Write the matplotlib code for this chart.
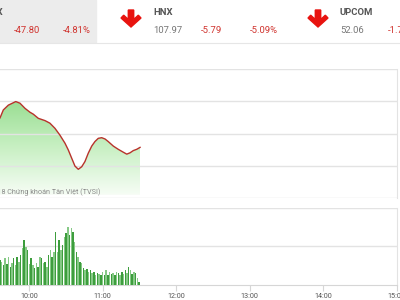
import numpy as np
import matplotlib
matplotlib.use("Agg")
import matplotlib.pyplot as plt
from matplotlib.colors import LinearSegmentedColormap
from matplotlib.patches import Polygon, Rectangle

plt.rcParams['font.family'] = ['Roboto', 'DejaVu Sans']

# index line: minutes after 9:00 and index value
line_minutes = [32.0, 35.9, 38.6, 42.7, 48.7, 52.1, 56.2, 60.2, 62.9, 67.0, 72.4,
                76.4, 80.5, 84.5, 88.6, 91.3, 94.1, 96.7, 99.4, 102.2, 104.8,
                107.5, 110.3, 112.9, 115.6, 118.4, 121.1, 123.7, 127.8, 131.8,
                135.9, 138.7, 141.3, 144.0, 146.8, 149.5]
line_values = [963.3, 964.8, 967.3, 968.8, 969.9, 969.4, 967.8, 966.6, 966.0, 964.7,
               964.0, 963.2, 961.6, 959.5, 957.0, 954.9, 952.3, 949.9, 948.9, 949.7,
               951.3, 953.9, 956.1, 957.5, 958.5, 958.7, 958.3, 957.5, 956.1, 955.1,
               954.2, 953.6, 954.0, 954.7, 955.1, 955.7]

# volume bars (million shares), evenly spaced from first to last minute
vol_first_minute = 36.0
vol_last_minute = 149.8
volumes = [1.28, 1.19, 1.02, 1.39, 1.07, 1.45, 0.93, 1.12, 1.39, 1.02, 1.45, 1.19,
           1.54, 1.89, 2.33, 1.98, 1.80, 1.07, 1.39, 1.02, 0.85, 1.11, 0.93, 1.45,
           1.40, 1.11, 1.19, 0.93, 1.54, 1.80, 1.45, 1.72, 2.76, 1.72, 2.33, 1.80,
           2.07, 2.50, 2.68, 3.02, 2.59, 2.94, 2.76, 2.24, 1.72, 1.45, 1.19, 1.11,
           0.85, 0.76, 0.79, 0.67, 0.76, 0.59, 0.67, 0.50, 0.59, 0.53, 0.50, 0.67,
           0.50, 0.76, 0.50, 0.67, 0.53, 0.62, 0.50, 0.67, 0.59, 0.50, 0.67, 0.53,
           0.76, 0.59, 0.93, 0.76, 0.53, 0.67, 0.59, 0.32, 0.15]

hour_ticks = [10, 11, 12, 13, 14, 15]
hour_labels = ["10:00", "11:00", "12:00", "13:00", "14:00", "15:00"]

# header
header_names = ["VN-INDEX", "HNX", "UPCOM"]
header_values = ["", "107.97", "52.06"]
header_changes = ["-47.80", "-5.79", "-1.75"]
header_pcts = ["-4.81%", "-5.09%", "-1.75%"]

W, H = 400, 300
fig = plt.figure(figsize=(4, 3), dpi=100)

def fx(px):
    return px / W

def fy(py):
    return 1 - py / H

grid_c = "#e3e3e3"
x0, x1 = 9.0, 14.96
left_px, right_px = -44.3, 396.7

# upper: index line
ax = fig.add_axes([fx(left_px), fy(198), (right_px - left_px) / W, 129 / H])
ax.set_xlim(x0, x1)
ax.set_ylim(940, 980)
ax.set_yticks([940, 950, 960, 970, 980])
ax.grid(axis='y', color=grid_c, linewidth=1.0)
ax.set_xticks([])
ax.tick_params(left=False, labelleft=False)
for s in ['top', 'left', 'bottom']:
    ax.spines[s].set_visible(False)
ax.spines['right'].set_color(grid_c)

t = 9 + np.array(line_minutes) / 60
v = np.array(line_values)
fill_bottom = 941
poly = ax.fill_between(t, v, fill_bottom, color='none')
cmap = LinearSegmentedColormap.from_list("g", ["#f6fdf5", "#c6efc1", "#95dc8d"])
grad = np.linspace(0, 1, 200).reshape(-1, 1)
im = ax.imshow(grad, extent=[t[0], t[-1], fill_bottom, 972], origin='lower',
               cmap=cmap, aspect='auto', zorder=1)
im.set_clip_path(poly.get_paths()[0], transform=ax.transData)
ax.plot(t, v, color="#b8322b", linewidth=1.0, zorder=3)

ax.text(11.5 - 40.5 / 74, 941.9, "© 2018 Chứng khoán Tân Việt (TVSI)", ha='right',
        va='center', fontsize=5.2, color="#8a8a8a", zorder=4)

# lower: volume bars
bx = fig.add_axes([fx(left_px), fy(284.5), (right_px - left_px) / W, 76.5 / H])
bx.set_xlim(x0, x1)
bx.set_ylim(0, 4)
bx.set_yticks([2, 4])
bx.grid(axis='y', color=grid_c, linewidth=1.0)
bx.tick_params(left=False, labelleft=False)
for s in ['top', 'left']:
    bx.spines[s].set_visible(False)
bx.spines['right'].set_color(grid_c)
bx.spines['bottom'].set_color("#d6d6d6")
bt = 9 + np.linspace(vol_first_minute, vol_last_minute, len(volumes)) / 60
colors = ["#3d9d3d" if i % 2 == 0 else "#86c986" for i in range(len(volumes))]
bx.bar(bt, volumes, width=1.5 / 74, color=colors, linewidth=0, zorder=3)
bx.set_xticks(hour_ticks)
bx.set_xticklabels(hour_labels, fontsize=5.2, color="#555555")
bx.tick_params(axis='x', length=4, color="#d6d6d6", pad=2)

# header strip
fig.patches.append(Rectangle((0, fy(42)), fx(96), 42 / H, transform=fig.transFigure,
                             color="#ececec", zorder=0))
fig.add_artist(plt.Line2D([0, 1], [fy(42.5), fy(42.5)], color="#e6e6e6",
                          linewidth=0.8, transform=fig.transFigure))

name_x = [-40, 153, 340]
col_x = [-34, 153, 340]
for i in range(3):
    nx = col_x[i]
    fig.text(fx(name_x[i]), fy(12.5), header_names[i], fontsize=6.8, fontweight='bold',
             color="#555555", va='center', ha='left')
    if header_values[i]:
        fig.text(fx(nx), fy(30.5), header_values[i], fontsize=6.8, color="#777777",
                 va='center', ha='left')
    fig.text(fx(nx + 48), fy(30.5), header_changes[i], fontsize=6.8, color="#d0342f",
             va='center', ha='left')
    fig.text(fx(nx + 97), fy(30.5), header_pcts[i], fontsize=6.8, color="#d0342f",
             va='center', ha='left')

def arrow(cx):
    pts = [(cx - 2.7, 10), (cx + 2.7, 10), (cx + 2.7, 19.5), (cx + 7.3, 15.2),
           (cx + 10, 18), (cx, 27), (cx - 10, 18), (cx - 7.3, 15.2), (cx - 2.7, 19.5)]
    fig.patches.append(Polygon([(fx(a), fy(b)) for a, b in pts], closed=True,
                               transform=fig.transFigure, color="#e8130f", zorder=2))

arrow(131)
arrow(318)

fig.savefig("out.png", dpi=100)
